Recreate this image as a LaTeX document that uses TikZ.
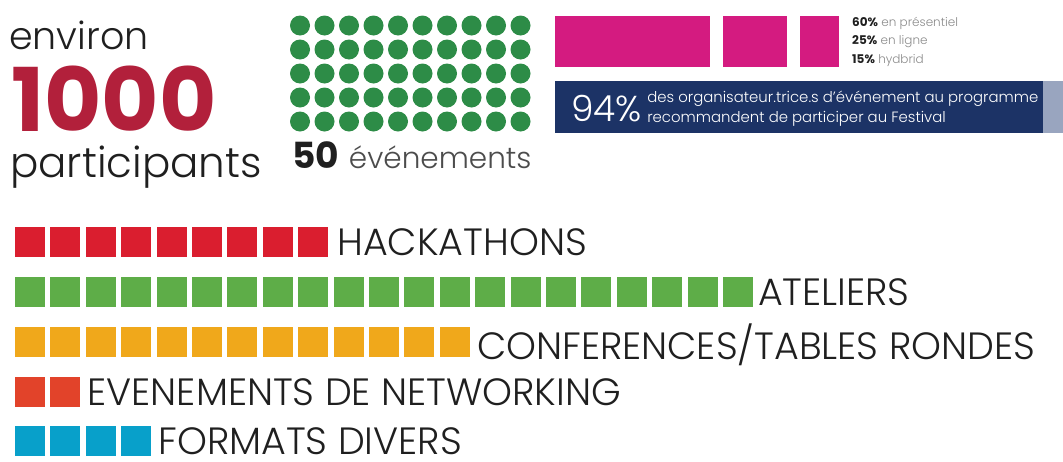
\documentclass[tikz,border=0pt]{standalone}
\usepackage{fontspec}
\setmainfont{Poppins Light}[BoldFont={Poppins Bold}]
\usetikzlibrary{positioning}

\definecolor{thousandred}{HTML}{B2203B}
\definecolor{dotgreen}{HTML}{2D8C47}
\definecolor{modepink}{HTML}{D41B80}
\definecolor{surveynavy}{HTML}{1C3366}
\definecolor{surveyslate}{HTML}{99A5BF}
\definecolor{hackred}{HTML}{DA1E2F}
\definecolor{atgreen}{HTML}{5EAD48}
\definecolor{confamber}{HTML}{F0A81B}
\definecolor{netorange}{HTML}{E2432A}
\definecolor{fmtblue}{HTML}{08A0CA}
\definecolor{inkgrey}{HTML}{1F1F1F}
\definecolor{softgrey}{HTML}{8A8A8A}

\begin{document}
\begin{tikzpicture}[
        x=1pt, y=-1pt,
        cell/.style={minimum size=30pt, inner sep=0pt, outer sep=0pt},
        dot/.style={circle, fill=dotgreen, minimum size=20pt, inner sep=0pt},
        bar/.style={anchor=north west, inner sep=0pt, outer sep=0pt},
        cat_label/.style={inner sep=0pt, text depth=0pt, text=inkgrey, font=\fontsize{38}{38}\selectfont},
        big_text/.style={anchor=base west, inner sep=0pt, text=inkgrey}
    ]
    \useasboundingbox (0,0) rectangle (1063,461);

    % --- participants ---
    \node[big_text, font=\fontsize{38}{38}\selectfont] (environ) at (9,49) {environ};
    \node[big_text, text depth=0pt, text=thousandred, font=\fontsize{88}{88}\selectfont\bfseries] (thousand) at (11,131) {1000};
    \node[big_text, font=\fontsize{42}{42}\selectfont] (participants) at (10,177) {participants};

    % --- 50 events as dots ---
    \foreach \r in {0,...,4}
        \foreach \c in {0,...,9}
            \node[dot] (dot-\r-\c) at ({300+24.5*\c}, {25.5+24*\r}) {};
    \node[big_text, font=\fontsize{36}{36}\selectfont] (nb_events) at (292,168)
        {\textbf{50} \textcolor{inkgrey!80}{\fontsize{29.5}{30}\selectfont événements}};

    % --- event modes ---
    \node[bar, fill=modepink, minimum width=155pt, minimum height=51pt] (mode_pres) at (555,16) {};
    \node[bar, fill=modepink, minimum width=64pt, minimum height=51pt] (mode_online) at (723,16) {};
    \node[bar, fill=modepink, minimum width=39pt, minimum height=51pt] (mode_hybrid) at (800,16) {};
    \node[right=13pt of mode_hybrid, inner sep=0pt, align=left, text=softgrey,
          font=\fontsize{12}{18.5}\selectfont] (mode_legend)
        {\textbf{\color{inkgrey}60\%} en présentiel\\
         \textbf{\color{inkgrey}25\%} en ligne\\
         \textbf{\color{inkgrey}15\%} hydbrid};

    % --- survey ---
    \node[bar, fill=surveynavy, minimum width=488pt, minimum height=52pt] (survey) at (555,81) {};
    \node[bar, fill=surveyslate, minimum width=20pt, minimum height=52pt] (survey_rest) at (1043,81) {};
    \node[anchor=west, inner sep=0pt, text=white, font=\fontsize{36}{36}\selectfont] (survey_pct) at (571,109) {94\%};
    \node[right=5pt of survey_pct, inner sep=0pt, align=left, text=white, font=\fontsize{14.9}{20}\selectfont] (survey_text)
        {des organisateur.trice.s d’événement au programme\\recommandent de participer au Festival};

    % --- formats ---
    \foreach \i in {1,...,9}
        \node[cell, fill=hackred] (hack-\i) at ({30+35.4*(\i-1)}, 242) {};
    \node[cat_label, right=9pt of hack-9] (lbl_hack) {HACKATHONS};

    \foreach \i in {1,...,21}
        \node[cell, fill=atgreen] (atel-\i) at ({30+35.4*(\i-1)}, 292) {};
    \node[cat_label, right=5pt of atel-21] (lbl_atel) {ATELIERS};

    \foreach \i in {1,...,13}
        \node[cell, fill=confamber] (conf-\i) at ({30+35.4*(\i-1)}, 342) {};
    \node[cat_label, right=7pt of conf-13] (lbl_conf) {CONFERENCES/TABLES RONDES};

    \foreach \i in {1,...,2}
        \node[cell, fill=netorange] (net-\i) at ({30+35.4*(\i-1)}, 392) {};
    \node[cat_label, right=7pt of net-2] (lbl_net) {EVENEMENTS DE NETWORKING};

    \foreach \i in {1,...,4}
        \node[cell, fill=fmtblue] (fmt-\i) at ({30+35.4*(\i-1)}, 441) {};
    \node[cat_label, right=7pt of fmt-4] (lbl_fmt) {FORMATS DIVERS};

\end{tikzpicture}
\end{document}
